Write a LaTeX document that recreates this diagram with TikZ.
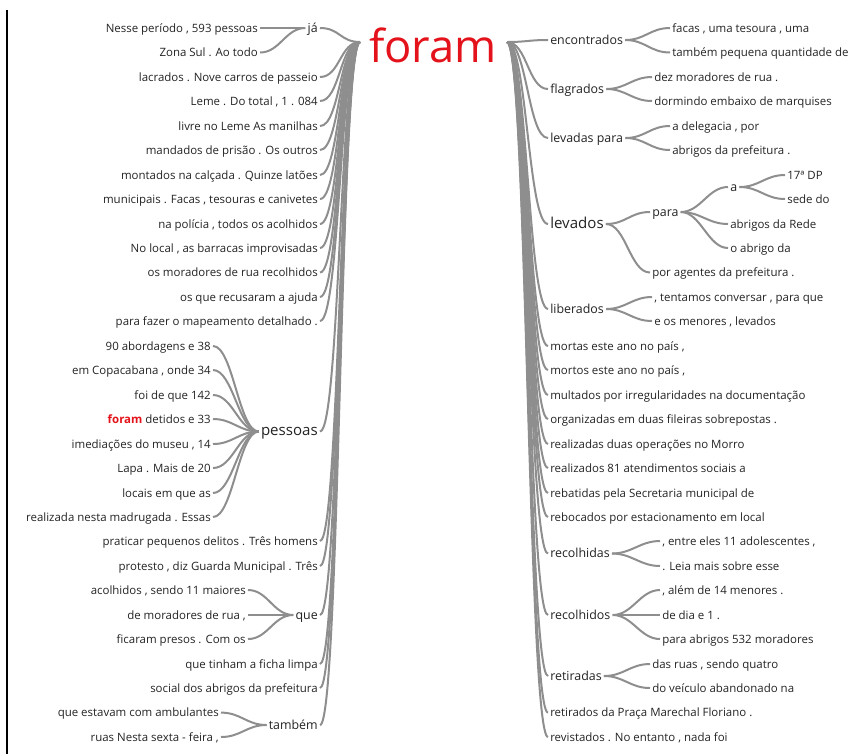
\documentclass[tikz,border=0pt]{standalone}
\usepackage{fontspec}
\setmainfont{Open Sans}
\definecolor{rootred}{RGB}{228,18,26}
\definecolor{branch}{RGB}{142,142,142}
\definecolor{txt}{RGB}{35,35,35}
\newcommand\leaffont{\fontsize{8.6}{10}\selectfont}
\newcommand\midfont{\fontsize{9.3}{11}\selectfont}
\newcommand\bigfont{\fontsize{11.3}{13}\selectfont}

\begin{document}
\begin{tikzpicture}[x=0.75pt, y=-0.75pt,
  lf/.style={font=\leaffont, text=txt, inner sep=1.5pt, text height=1.5ex, text depth=.35ex},
  md/.style={lf, font=\midfont},
  bg/.style={lf, font=\bigfont},
  br/.style={draw=branch, line width=1.5pt}]
\useasboundingbox (0,0) rectangle (862,754);
\draw[black, line width=0.8pt] (7,10) -- (7,754);

% root
\node[text=rootred, inner sep=0pt, font=\fontsize{34}{36}\selectfont] (root) at (433,45) {foram};
\coordinate (rootL) at (360,42);
\coordinate (rootR) at (507,42);

% left side
\node[md, anchor=east] (ja) at (320,28) {já};
\node[lf, anchor=east] (ja1) at (260,28) {Nesse período , 593 pessoas};
\node[lf, anchor=east] (ja2) at (260,52.5) {Zona Sul . Ao todo};
\node[lf, anchor=east] (a1) at (320,77) {lacrados . Nove carros de passeio};
\node[lf, anchor=east] (a2) at (320,101) {Leme . Do total , 1 . 084};
\node[lf, anchor=east] (a3) at (320,126) {livre no Leme As manilhas};
\node[lf, anchor=east] (a4) at (320,150) {mandados de prisão . Os outros};
\node[lf, anchor=east] (a5) at (320,175) {montados na calçada . Quinze latões};
\node[lf, anchor=east] (a6) at (320,199) {municipais . Facas , tesouras e canivetes};
\node[lf, anchor=east] (a7) at (320,224) {na polícia , todos os acolhidos};
\node[lf, anchor=east] (a8) at (320,248) {No local , as barracas improvisadas};
\node[lf, anchor=east] (a9) at (320,272.5) {os moradores de rua recolhidos};
\node[lf, anchor=east] (a10) at (320,297) {os que recusaram a ajuda};
\node[lf, anchor=east] (a11) at (320,321) {para fazer o mapeamento detalhado .};
\node[bg, anchor=east] (pes) at (320,431.5) {pessoas};
\node[lf, anchor=east] (p1) at (213,346) {90 abordagens e 38};
\node[lf, anchor=east] (p2) at (213,370) {em Copacabana , onde 34};
\node[lf, anchor=east] (p3) at (213,395) {foi de que 142};
\node[lf, anchor=east] (p4) at (213,419) {\textcolor{rootred}{\bfseries foram} detidos e 33};
\node[lf, anchor=east] (p5) at (213,444) {imediações do museu , 14};
\node[lf, anchor=east] (p6) at (213,468) {Lapa . Mais de 20};
\node[lf, anchor=east] (p7) at (213,493) {locais em que as};
\node[lf, anchor=east] (p8) at (213,517) {realizada nesta madrugada . Essas};
\node[lf, anchor=east] (a12) at (320,541) {praticar pequenos delitos . Três homens};
\node[lf, anchor=east] (a13) at (320,566) {protesto , diz Guarda Municipal . Três};
\node[md, anchor=east] (que) at (320,615) {que};
\node[lf, anchor=east] (q1) at (248,590) {acolhidos , sendo 11 maiores};
\node[lf, anchor=east] (q2) at (248,615) {de moradores de rua ,};
\node[lf, anchor=east] (q3) at (248,639) {ficaram presos . Com os};
\node[lf, anchor=east] (a14) at (320,664) {que tinham a ficha limpa};
\node[lf, anchor=east] (a15) at (320,688) {social dos abrigos da prefeitura};
\node[md, anchor=east] (tam) at (320,725) {também};
\node[lf, anchor=east] (t1) at (221,712.6) {que estavam com ambulantes};
\node[lf, anchor=east] (t2) at (221,737) {ruas Nesta sexta - feira ,};

% right side
\node[md, anchor=west] (enc) at (548,40) {encontrados};
\node[lf, anchor=west] (enc1) at (670,28) {facas , uma tesoura , uma};
\node[lf, anchor=west] (enc2) at (670,52.5) {também pequena quantidade de};
\node[md, anchor=west] (fla) at (548,89) {flagrados};
\node[lf, anchor=west] (fla1) at (652,77) {dez moradores de rua .};
\node[lf, anchor=west] (fla2) at (652,101) {dormindo embaixo de marquises};
\node[md, anchor=west] (lvp) at (548,138) {levadas para};
\node[lf, anchor=west] (lvp1) at (670,126) {a delegacia , por};
\node[lf, anchor=west] (lvp2) at (670,150) {abrigos da prefeitura .};
\node[bg, anchor=west] (lev) at (548,224) {levados};
\node[md, anchor=west] (para) at (650,212) {para};
\node[md, anchor=west] (pa) at (728,187) {a};
\node[lf, anchor=west] (pa1) at (785,175) {17ª DP};
\node[lf, anchor=west] (pa2) at (785,199) {sede do};
\node[lf, anchor=west] (para2) at (728,224) {abrigos da Rede};
\node[lf, anchor=west] (para3) at (728,248) {o abrigo da};
\node[lf, anchor=west] (lev2) at (650,272.5) {por agentes da prefeitura .};
\node[md, anchor=west] (lib) at (548,309) {liberados};
\node[lf, anchor=west] (lib1) at (652,297) {, tentamos conversar , para que};
\node[lf, anchor=west] (lib2) at (652,321) {e os menores , levados};
\node[lf, anchor=west] (b1) at (548,346) {mortas este ano no país ,};
\node[lf, anchor=west] (b2) at (548,370) {mortos este ano no país ,};
\node[lf, anchor=west] (b3) at (548,395) {multados por irregularidades na documentação};
\node[lf, anchor=west] (b4) at (548,419) {organizadas em duas fileiras sobrepostas .};
\node[lf, anchor=west] (b5) at (548,444) {realizadas duas operações no Morro};
\node[lf, anchor=west] (b6) at (548,468) {realizados 81 atendimentos sociais a};
\node[lf, anchor=west] (b7) at (548,493) {rebatidas pela Secretaria municipal de};
\node[lf, anchor=west] (b8) at (548,517) {rebocados por estacionamento em local};
\node[md, anchor=west] (rca) at (548,553.5) {recolhidas};
\node[lf, anchor=west] (rca1) at (660,541) {, entre eles 11 adolescentes ,};
\node[lf, anchor=west] (rca2) at (660,566) {. Leia mais sobre esse};
\node[md, anchor=west] (rco) at (548,615) {recolhidos};
\node[lf, anchor=west] (rco1) at (660,590) {, além de 14 menores .};
\node[lf, anchor=west] (rco2) at (660,615) {de dia e 1 .};
\node[lf, anchor=west] (rco3) at (660,639) {para abrigos 532 moradores};
\node[md, anchor=west] (ret) at (548,676) {retiradas};
\node[lf, anchor=west] (ret1) at (650,664) {das ruas , sendo quatro};
\node[lf, anchor=west] (ret2) at (650,688) {do veículo abandonado na};
\node[lf, anchor=west] (b9) at (548,712.6) {retirados da Praça Marechal Floriano .};
\node[lf, anchor=west] (b10) at (548,737) {revistados . No entanto , nada foi};

% branches, left
\foreach \n in {ja,a1,a2,a3,a4,a5,a6,a7,a8,a9,a10,a11,pes,a12,a13,que,a14,a15,tam}
  \draw[br] (rootL) .. controls +(-20,0) and +(20,0) .. (\n.east);
\foreach \n in {ja1,ja2}
  \draw[br] (ja.west) .. controls +(-20,0) and +(20,0) .. (\n.east);
\foreach \n in {p1,p2,p3,p4,p5,p6,p7,p8}
  \draw[br] (pes.west) .. controls +(-20,0) and +(20,0) .. (\n.east);
\foreach \n in {q1,q2,q3}
  \draw[br] (que.west) .. controls +(-20,0) and +(20,0) .. (\n.east);
\foreach \n in {t1,t2}
  \draw[br] (tam.west) .. controls +(-20,0) and +(20,0) .. (\n.east);

% branches, right
\foreach \n in {enc,fla,lvp,lev,lib,b1,b2,b3,b4,b5,b6,b7,b8,rca,rco,ret,b9,b10}
  \draw[br] (rootR) .. controls +(20,0) and +(-20,0) .. (\n.west);
\foreach \p/\c in {enc/enc1,enc/enc2,fla/fla1,fla/fla2,lvp/lvp1,lvp/lvp2,lev/para,lev/lev2,
  para/pa,para/para2,para/para3,pa/pa1,pa/pa2,lib/lib1,lib/lib2,rca/rca1,rca/rca2,
  rco/rco1,rco/rco2,rco/rco3,ret/ret1,ret/ret2}
  \draw[br] (\p.east) .. controls +(20,0) and +(-20,0) .. (\c.west);
\end{tikzpicture}
\end{document}
